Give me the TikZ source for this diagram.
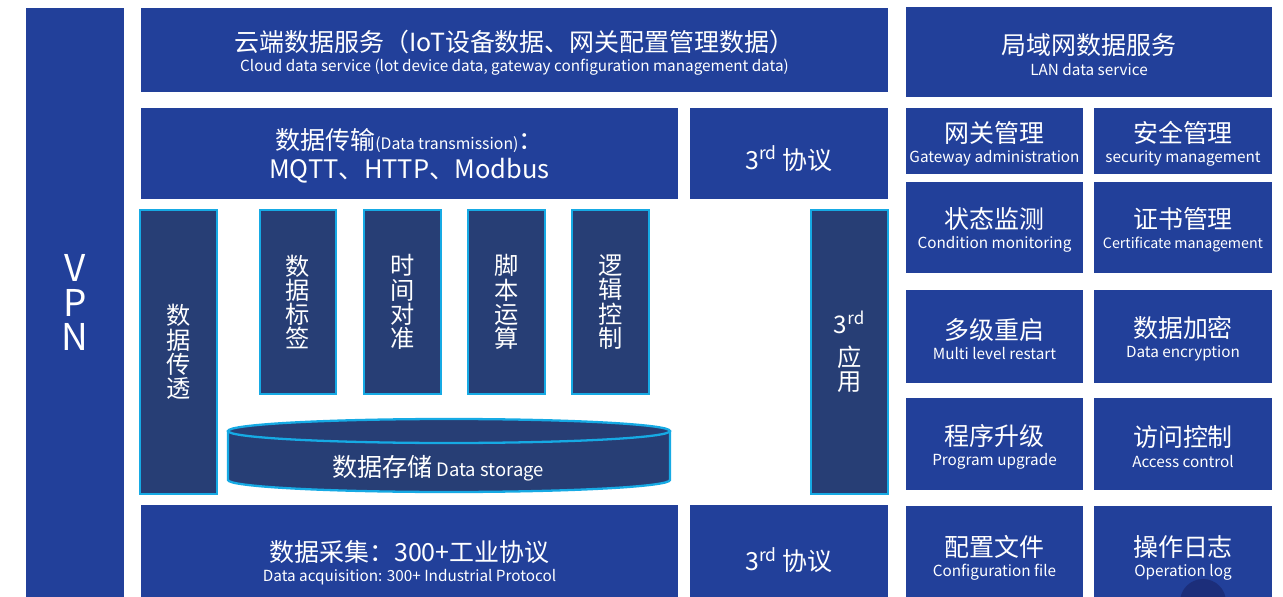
\documentclass[tikz,border=0pt]{standalone}
\usepackage{fontspec}
\setmainfont{Noto Sans CJK SC}
\usepackage{tikz}
\usetikzlibrary{positioning}
\definecolor{mainblue}{RGB}{34,64,154}
\definecolor{navyblue}{RGB}{39,62,117}
\definecolor{edgecyan}{RGB}{22,170,228}
\definecolor{dotblue}{RGB}{28,46,122}
\tikzstyle{panel}=[fill=mainblue, text=white, inner sep=0pt, outer sep=0pt, align=center, font=\titletxt]
\tikzstyle{pillar}=[fill=navyblue, draw=edgecyan, line width=1.3pt, text=white, inner sep=0pt, outer sep=0pt, align=center, font=\pillartxt]
\newcommand{\titletxt}{\fontsize{14.2}{15}\selectfont}
\newcommand{\subtxt}{\fontsize{8.7}{10}\selectfont}
\newcommand{\pillartxt}{\fontsize{13.8}{13.8}\selectfont}
\newcommand{\vpntxt}{\fontsize{21}{19.5}\selectfont}
\newcommand{\colbox}[7]{
	\node[#1, minimum width={(#5-#3)*0.02cm}, minimum height={(#6-#4)*0.02cm}] (#2) at ({(#3+#5)/2},{(#4+#6)/2}) {#7};
}
\newcommand{\twoline}[2]{{\titletxt\rule{0pt}{15pt}#1}\\[-3.5pt]{\subtxt #2}}

\begin{document}
\begin{tikzpicture}[x=0.02cm, y=-0.02cm]
	\useasboundingbox (0,0) rectangle (1283,597);
	\clip (0,0) rectangle (1283,597);
	\colbox{panel, font=\vpntxt}{vpn}{26}{8}{124}{597}{V\\P\\N}
	\colbox{panel}{cloud}{141}{8}{888}{92}{\twoline{云端数据服务（IoT设备数据、网关配置管理数据）}{Cloud data service (lot device data, gateway configuration management data)}}
	\colbox{panel}{lan}{906}{7}{1272}{97}{\twoline{局域网数据服务}{LAN data service}}
	\colbox{panel}{trans}{141}{108}{678}{199}{\rule{0pt}{15pt}数据传输{\fontsize{9}{10}\selectfont(Data transmission)}：\\[1.5pt]{\fontsize{14.5}{15}\selectfont MQTT、HTTP、Modbus}}
	\colbox{panel}{protoup}{690}{108}{888}{199}{\rule{0pt}{19pt}3\textsuperscript{rd} 协议}
	\colbox{pillar}{passthru}{140}{210}{217}{494}{数\\据\\传\\透}
	\colbox{pillar}{tag}{260}{210}{336}{394}{数\\据\\标\\签}
	\colbox{pillar}{timing}{364}{210}{441}{394}{时\\间\\对\\准}
	\colbox{pillar}{script}{468}{210}{545}{394}{脚\\本\\运\\算}
	\colbox{pillar}{logic}{572}{210}{649}{394}{逻\\辑\\控\\制}
	\colbox{pillar}{app}{811}{210}{888}{494}{3\textsuperscript{rd}\\[5pt]应\\用}
	\fill[navyblue] (228,431) -- (228,480) arc[start angle=180, end angle=360, x radius=4.42cm, y radius=0.24cm] -- (670,431) -- cycle;
	\draw[edgecyan, line width=1.3pt] (228,431) -- (228,480) arc[start angle=180, end angle=360, x radius=4.42cm, y radius=0.24cm] -- (670,431);
	\draw[edgecyan, line width=1.3pt, fill=navyblue] (449,431) ellipse [x radius=4.42cm, y radius=0.24cm];
	\node[text=white, inner sep=0pt] (storage) at (438,468) {{\fontsize{14.3}{15}\selectfont 数据存储} {\fontsize{10.5}{12}\selectfont Data storage}};
	\colbox{panel}{acq}{141}{505}{678}{615}{\twoline{数据采集：300+工业协议}{Data acquisition: 300+ Industrial Protocol}}
	\colbox{panel}{protodown}{690}{505}{888}{615}{3\textsuperscript{rd} 协议}
	\colbox{panel}{gateway}{906}{108}{1083}{174}{\twoline{网关管理}{Gateway administration}}
	\colbox{panel}{security}{1094}{108}{1272}{174}{\twoline{安全管理}{security management}}
	\colbox{panel}{monitor}{906}{182}{1083}{273}{\twoline{状态监测}{Condition monitoring}}
	\colbox{panel}{cert}{1094}{182}{1272}{273}{\twoline{证书管理}{\fontsize{8.1}{10}\selectfont Certificate management}}
	\colbox{panel}{restart}{906}{290}{1083}{383}{\twoline{多级重启}{Multi level restart}}
	\colbox{panel}{encrypt}{1094}{290}{1272}{383}{\twoline{数据加密}{Data encryption}}
	\colbox{panel}{upgrade}{906}{398}{1083}{490}{\twoline{程序升级}{Program upgrade}}
	\colbox{panel}{access}{1094}{398}{1272}{490}{\twoline{访问控制}{Access control}}
	\colbox{panel}{config}{906}{506}{1083}{605}{\twoline{配置文件}{Configuration file}}
	\colbox{panel}{oplog}{1094}{506}{1272}{605}{\twoline{操作日志}{Operation log}}
	\fill[dotblue] (1203,602) circle [radius=0.46cm];
\end{tikzpicture}
\end{document}
